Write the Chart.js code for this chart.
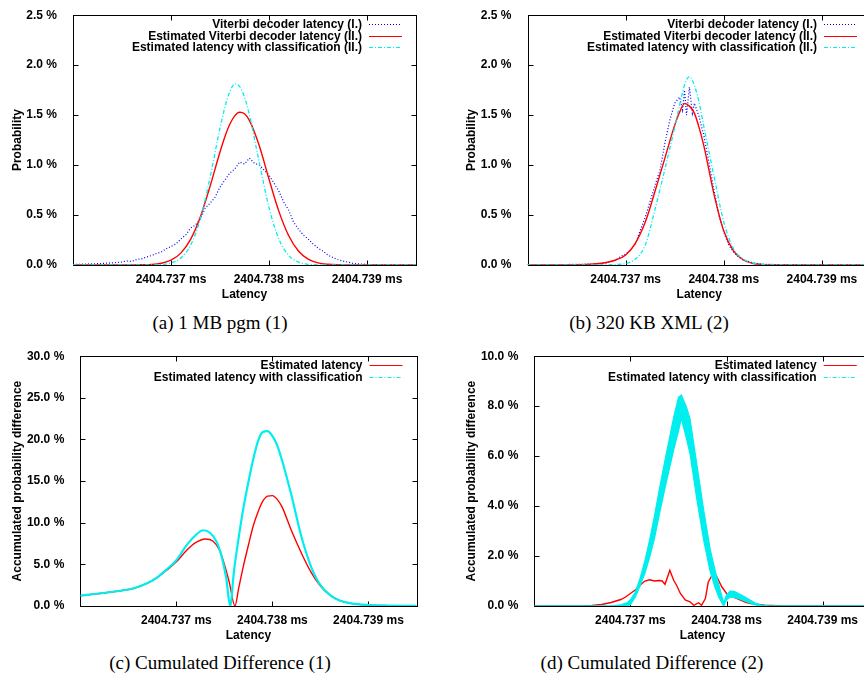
<!DOCTYPE html>
<html>
<head>
<meta charset="utf-8">
<script src="https://cdn.jsdelivr.net/npm/chart.js@4.4.1/dist/chart.umd.min.js"></script>
<style>
  html, body { margin: 0; padding: 0; background: #fff; }
  #page { position: relative; width: 864px; height: 678px; overflow: hidden; background: #fff; }
  canvas { position: absolute; }
  .caption { position: absolute; width: 400px; text-align: center; color: #000;
             font: 19px "Liberation Serif", "Times New Roman", serif; line-height: 20px; white-space: nowrap; }
</style>
</head>
<body>
<div id="page">
  <canvas id="chartA" width="432" height="305" style="left:0;top:0"></canvas>
  <canvas id="chartB" width="455" height="305" style="left:432px;top:0"></canvas>
  <canvas id="chartC" width="432" height="305" style="left:0;top:341px"></canvas>
  <canvas id="chartD" width="455" height="305" style="left:432px;top:341px"></canvas>
  <div class="caption" style="left:20px;top:313px">(a) 1 MB pgm (1)</div>
  <div class="caption" style="left:449px;top:313px">(b) 320 KB XML (2)</div>
  <div class="caption" style="left:20px;top:653px">(c) Cumulated Difference (1)</div>
  <div class="caption" style="left:452px;top:653px">(d) Cumulated Difference (2)</div>
</div>
<script>
// latency is stored as µs after 2404.736 ms
const latencyTicks = [1, 2, 3];
const latencyTickLabels = ['2404.737 ms', '2404.738 ms', '2404.739 ms'];

const probTicks = [0, 0.5, 1, 1.5, 2, 2.5];
const probTickLabels = ['0.0 %', '0.5 %', '1.0 %', '1.5 %', '2.0 %', '2.5 %'];
const diffTicks1 = [0, 5, 10, 15, 20, 25, 30];
const diffTickLabels1 = ['0.0 %', '5.0 %', '10.0 %', '15.0 %', '20.0 %', '25.0 %', '30.0 %'];
const diffTicks2 = [0, 2, 4, 6, 8, 10];
const diffTickLabels2 = ['0.0 %', '2.0 %', '4.0 %', '6.0 %', '8.0 %', '10.0 %'];

// (a) and (b): smooth estimates share one latency grid
const smoothGrid = [0, 0.2, 0.4, 0.6, 0.7, 0.8, 0.9, 1.0, 1.1, 1.2, 1.3, 1.4, 1.5, 1.55, 1.6, 1.65,
  1.7, 1.75, 1.8, 1.9, 2.0, 2.1, 2.2, 2.3, 2.4, 2.5, 2.6, 2.7, 2.8, 3.0, 3.2, 3.5];

// (a) 1 MB pgm
const estimatedA = [0, 0, 0, 0.001, 0.002, 0.005, 0.017, 0.048, 0.119, 0.257, 0.483, 0.792, 1.131, 1.284, 1.408, 1.493,
  1.529, 1.513, 1.447, 1.195, 0.859, 0.539, 0.295, 0.140, 0.058, 0.021, 0.007, 0.002, 0.001, 0, 0, 0];
const classifiedA = [0, 0, 0, 0, 0, 0.001, 0.005, 0.020, 0.069, 0.198, 0.464, 0.883, 1.370, 1.580, 1.733, 1.812,
  1.788, 1.681, 1.503, 1.029, 0.575, 0.261, 0.097, 0.029, 0.007, 0.001, 0, 0, 0, 0, 0, 0];
const measuredLatA = [0, 0.1, 0.2, 0.3, 0.4, 0.5, 0.55, 0.6, 0.65, 0.7, 0.75, 0.8, 0.85, 0.9, 0.95, 1.0,
  1.05, 1.1, 1.15, 1.2, 1.25, 1.3, 1.35, 1.4, 1.45, 1.5, 1.55, 1.6, 1.65, 1.7, 1.75, 1.8, 1.85, 1.9, 1.95, 2.0,
  2.05, 2.1, 2.15, 2.2, 2.25, 2.3, 2.35, 2.4, 2.45, 2.5, 2.55, 2.6, 2.65, 2.7, 2.75, 2.8, 2.85, 2.9, 3.0,
  3.1, 3.2, 3.3, 3.5];
const measuredA = [0.005, 0.008, 0.012, 0.015, 0.022, 0.03, 0.04, 0.036, 0.055, 0.062, 0.08, 0.094, 0.115, 0.13, 0.162, 0.185,
  0.21, 0.26, 0.30, 0.37, 0.40, 0.46, 0.57, 0.62, 0.68, 0.78, 0.85, 0.92, 0.96, 1.03, 1.01, 1.07, 1.02, 1.0, 0.95, 0.90,
  0.82, 0.74, 0.63, 0.55, 0.43, 0.36, 0.30, 0.26, 0.21, 0.17, 0.14, 0.10, 0.075, 0.055, 0.04, 0.03, 0.018, 0.012, 0.006,
  0.003, 0.002, 0.001, 0];

// (b) 320 KB XML
const estimatedB = [0, 0, 0.001, 0.005, 0.012, 0.025, 0.05, 0.10, 0.22, 0.43, 0.74, 1.07, 1.40, 1.53, 1.615, 1.59,
  1.52, 1.37, 1.18, 0.71, 0.34, 0.14, 0.05, 0.015, 0.004, 0.001, 0, 0, 0, 0, 0, 0];
const classifiedB = [0, 0, 0, 0, 0, 0.001, 0.004, 0.015, 0.06, 0.20, 0.56, 0.96, 1.38, 1.60, 1.80, 1.885,
  1.80, 1.62, 1.37, 0.89, 0.43, 0.16, 0.06, 0.02, 0.005, 0.001, 0, 0, 0, 0, 0, 0];
const measuredLatB = [0, 0.2, 0.4, 0.6, 0.7, 0.75, 0.8, 0.85, 0.9, 0.95, 1.0, 1.05, 1.1, 1.15, 1.2, 1.25, 1.3, 1.35,
  1.4, 1.45, 1.5, 1.55, 1.58, 1.6, 1.62, 1.65, 1.68, 1.7, 1.75, 1.8, 1.85, 1.9, 1.95, 2.0, 2.05, 2.1, 2.15, 2.2,
  2.3, 2.4, 2.6, 3.0, 3.5];
const measuredB = [0.002, 0.003, 0.005, 0.008, 0.012, 0.015, 0.02, 0.035, 0.05, 0.085, 0.11, 0.15, 0.21, 0.35, 0.48, 0.64, 0.80, 0.95,
  1.22, 1.45, 1.62, 1.68, 1.55, 1.75, 1.50, 1.78, 1.52, 1.62, 1.48, 1.28, 1.02, 0.75, 0.50, 0.33, 0.20, 0.13, 0.08, 0.05,
  0.02, 0.008, 0.003, 0.001, 0];

// (c) cumulated difference (1)
const estLatC = [0, 0.2, 0.4, 0.55, 0.7, 0.8, 0.9, 1.0, 1.1, 1.2, 1.3, 1.38, 1.45, 1.5, 1.55, 1.61, 1.65, 1.7,
  1.75, 1.8, 1.85, 1.9, 1.95, 2.0, 2.05, 2.1, 2.2, 2.3, 2.4, 2.5, 2.6, 2.7, 2.8, 3.0, 3.2, 3.5];
const estDiffC = [1.25, 1.5, 1.8, 2.1, 2.75, 3.4, 4.3, 5.3, 6.6, 7.6, 8.05, 7.8, 6.7, 5.0, 2.9, 0, 2.2, 4.9,
  7.3, 9.6, 11.3, 12.6, 13.2, 13.25, 12.8, 11.9, 9.0, 6.4, 4.1, 2.4, 1.3, 0.65, 0.35, 0.12, 0.05, 0.02];
const clsLatC = [0, 0.2, 0.4, 0.55, 0.7, 0.8, 0.9, 1.0, 1.1, 1.2, 1.28, 1.35, 1.42, 1.47, 1.52, 1.56, 1.6, 1.65,
  1.7, 1.75, 1.8, 1.85, 1.9, 1.95, 2.0, 2.05, 2.1, 2.2, 2.3, 2.4, 2.5, 2.6, 2.7, 2.8, 3.0, 3.2, 3.5];
const clsDiffC = [1.25, 1.5, 1.8, 2.1, 2.75, 3.45, 4.4, 5.5, 7.2, 8.5, 9.1, 8.8, 7.7, 6.0, 3.3, 0, 4.2, 8.3,
  11.9, 14.9, 17.6, 19.8, 20.9, 21.0, 20.4, 19.3, 17.5, 13.2, 8.4, 4.8, 2.5, 1.3, 0.65, 0.35, 0.12, 0.05, 0.02];

// (d) cumulated difference (2); the classified curve is a noisy band, kept as its upper and lower edge
const estLatD = [0, 0.3, 0.5, 0.6, 0.7, 0.8, 0.9, 0.95, 1.0, 1.05, 1.1, 1.15, 1.2, 1.25, 1.3, 1.33, 1.36, 1.41,
  1.45, 1.48, 1.52, 1.57, 1.62, 1.66, 1.71, 1.74, 1.78, 1.81, 1.86, 1.9, 1.95, 2.0, 2.05, 2.11, 2.2, 2.25, 2.4,
  2.6, 3.0, 3.5];
const estDiffD = [0, 0, 0.005, 0.02, 0.06, 0.14, 0.26, 0.36, 0.5, 0.64, 0.83, 1.0, 1.05, 1.0, 1.02, 1.0, 0.87, 1.43,
  1.03, 0.83, 0.5, 0.24, 0.17, 0.03, 0.13, 0.03, 0.3, 0.96, 1.3, 1.16, 0.77, 0.5, 0.4, 0.3, 0.15, 0.1, 0.03,
  0.005, 0, 0];
const clsLatD = [0, 0.8, 0.9, 0.97, 1.0, 1.05, 1.1, 1.15, 1.2, 1.25, 1.3, 1.35, 1.4, 1.45, 1.5, 1.53, 1.58, 1.62,
  1.69, 1.76, 1.83, 1.88, 1.92, 1.97, 2.0, 2.04, 2.09, 2.14, 2.2, 2.25, 2.3, 2.35, 2.45, 3.5];
const clsDiffHighD = [0, 0, 0.05, 0.14, 0.25, 0.55, 1.1, 1.8, 2.65, 3.6, 4.65, 5.65, 6.6, 7.55, 8.35, 8.45, 8.0, 7.5,
  5.7, 3.9, 2.27, 1.45, 0.85, 0.12, 0.45, 0.6, 0.57, 0.47, 0.34, 0.23, 0.12, 0.05, 0, 0];
const clsDiffLowD = [0, 0, 0, 0.02, 0.05, 0.35, 0.8, 1.3, 1.95, 2.7, 3.65, 4.55, 5.4, 6.25, 7.0, 7.5, 6.75, 6.1,
  4.3, 2.68, 1.37, 0.75, 0.35, 0, 0.25, 0.36, 0.33, 0.27, 0.18, 0.11, 0.04, 0.01, 0, 0];

const BLUE = '#0000ff';
const RED = '#ff0000';
const CYAN = '#00eeee';

Chart.defaults.font.family = '"Liberation Sans", Arial, sans-serif';
Chart.defaults.font.size = 12;
Chart.defaults.font.weight = 'bold';
Chart.defaults.color = '#000';

const pts = (xs, ys) => xs.map((x, i) => ({ x: x, y: ys[i] }));

// gnuplot style border with inward ticks on all four sides
const gnuplotFrame = {
    id: 'gnuplotFrame',
    beforeDatasetsDraw(chart) {
        const { ctx, chartArea: a, scales } = chart;
        const l = Math.round(a.left) + 0.5, r = Math.round(a.right) + 0.5;
        const t = Math.round(a.top) + 0.5, b = Math.round(a.bottom) + 0.5;
        ctx.save();
        ctx.strokeStyle = '#000';
        ctx.lineWidth = 1;
        ctx.strokeRect(l, t, r - l, b - t);
        ctx.beginPath();
        scales.x.ticks.forEach(tk => {
            const px = Math.round(scales.x.getPixelForValue(tk.value)) + 0.5;
            ctx.moveTo(px, b); ctx.lineTo(px, b - 5);
            ctx.moveTo(px, t); ctx.lineTo(px, t + 5);
        });
        scales.y.ticks.forEach(tk => {
            const py = Math.round(scales.y.getPixelForValue(tk.value)) + 0.5;
            ctx.moveTo(l, py); ctx.lineTo(l + 5, py);
            ctx.moveTo(r, py); ctx.lineTo(r - 5, py);
        });
        ctx.stroke();
        ctx.restore();
    }
};

// key drawn inside the top right corner, text right aligned before the sample
const cornerKey = {
    id: 'cornerKey',
    afterDraw(chart) {
        const { ctx, chartArea: a } = chart;
        ctx.save();
        ctx.font = 'bold 12px "Liberation Sans", Arial, sans-serif';
        ctx.textAlign = 'right';
        ctx.textBaseline = 'middle';
        chart.data.datasets.filter(ds => !ds.keyHidden).forEach((ds, i) => {
            const y = Math.round(a.top + 8.5 + i * 11.8) + 0.5;
            ctx.fillStyle = '#000';
            ctx.fillText(ds.label, a.right - 54, y);
            ctx.strokeStyle = ds.borderColor;
            ctx.lineWidth = ds.keyWidth || 1.2;
            ctx.setLineDash(ds.keyDash || []);
            ctx.beginPath();
            ctx.moveTo(a.right - 47, y);
            ctx.lineTo(a.right - 14, y);
            ctx.stroke();
        });
        ctx.restore();
    }
};

function makeChart(id, cfg) {
    const canvas = document.getElementById(id);
    return new Chart(canvas, {
        type: 'line',
        data: { datasets: cfg.datasets },
        options: {
            responsive: false,
            animation: false,
            events: [],
            layout: { padding: { left: 0, top: 13, right: canvas.width - cfg.plotRight, bottom: 0 } },
            elements: { point: { radius: 0 } },
            plugins: { legend: { display: false }, tooltip: { enabled: false } },
            scales: {
                x: {
                    type: 'linear',
                    min: 0,
                    max: 3.5,
                    grid: { display: false },
                    border: { display: false },
                    afterBuildTicks: s => { s.ticks = latencyTicks.map(v => ({ value: v })); },
                    afterFit: s => { s.height = 40; },
                    ticks: { padding: -1, autoSkip: false, maxRotation: 0, callback: (v, i) => latencyTickLabels[i] },
                    title: { display: true, text: 'Latency', padding: { top: 0, bottom: 3 } }
                },
                y: {
                    type: 'linear',
                    min: 0,
                    max: cfg.yTicks[cfg.yTicks.length - 1],
                    grid: { display: false },
                    border: { display: false },
                    afterBuildTicks: s => { s.ticks = cfg.yTicks.map(v => ({ value: v })); },
                    afterFit: s => { s.width = cfg.plotLeft; },
                    ticks: { padding: 8, autoSkip: false, callback: (v, i) => cfg.yLabels[i] },
                    title: { display: true, text: cfg.yTitle, padding: { top: cfg.titlePad, bottom: 0 } }
                }
            }
        },
        plugins: [gnuplotFrame, cornerKey]
    });
}

function measuredSet(xs, ys) {
    return { label: 'Viterbi decoder latency (I.)', data: pts(xs, ys), borderColor: BLUE, borderWidth: 1.2,
        borderDash: [1, 2], keyDash: [1, 2], keyWidth: 1, tension: 0, order: 2 };
}
function estimatedSet(label, xs, ys, smooth) {
    return { label: label, data: pts(xs, ys), borderColor: RED, borderWidth: 1.4,
        cubicInterpolationMode: smooth ? 'monotone' : 'default', tension: smooth ? 0.4 : 0, order: 1 };
}

makeChart('chartA', {
    plotLeft: 73, plotRight: 416, yTicks: probTicks, yLabels: probTickLabels, yTitle: 'Probability', titlePad: 10,
    datasets: [
        measuredSet(measuredLatA, measuredA),
        estimatedSet('Estimated Viterbi decoder latency (II.)', smoothGrid, estimatedA, true),
        { label: 'Estimated latency with classification (II.)', data: pts(smoothGrid, classifiedA), borderColor: CYAN,
          borderWidth: 1.3, borderDash: [4, 2, 1, 2], keyDash: [4, 2, 1, 2], cubicInterpolationMode: 'monotone', order: 0 }
    ]
});

makeChart('chartB', {
    plotLeft: 95.5, plotRight: 439, yTicks: probTicks, yLabels: probTickLabels, yTitle: 'Probability', titlePad: 32,
    datasets: [
        measuredSet(measuredLatB, measuredB),
        estimatedSet('Estimated Viterbi decoder latency (II.)', smoothGrid, estimatedB, true),
        { label: 'Estimated latency with classification (II.)', data: pts(smoothGrid, classifiedB), borderColor: CYAN,
          borderWidth: 1.3, borderDash: [4, 2, 1, 2], keyDash: [4, 2, 1, 2], cubicInterpolationMode: 'monotone', order: 0 }
    ]
});

makeChart('chartC', {
    plotLeft: 80.3, plotRight: 416.5, yTicks: diffTicks1, yLabels: diffTickLabels1,
    yTitle: 'Accumulated probability difference', titlePad: 10,
    datasets: [
        estimatedSet('Estimated latency', estLatC, estDiffC, true),
        { label: 'Estimated latency with classification', data: pts(clsLatC, clsDiffC), borderColor: CYAN,
          borderWidth: 2.2, keyDash: [4, 2, 1, 2], cubicInterpolationMode: 'monotone', order: 0 }
    ]
});

makeChart('chartD', {
    plotLeft: 102.3, plotRight: 438.7, yTicks: diffTicks2, yLabels: diffTickLabels2,
    yTitle: 'Accumulated probability difference', titlePad: 32,
    datasets: [
        estimatedSet('Estimated latency', estLatD, estDiffD, false),
        { label: 'Estimated latency with classification', data: pts(clsLatD, clsDiffHighD), borderColor: CYAN,
          backgroundColor: CYAN, borderWidth: 1.2, keyDash: [4, 2, 1, 2], tension: 0, fill: '+1', order: 0 },
        { label: 'classification band (lower edge)', keyHidden: true, data: pts(clsLatD, clsDiffLowD),
          borderColor: CYAN, borderWidth: 1.2, tension: 0, fill: false, order: 0 }
    ]
});
</script>
</body>
</html>
